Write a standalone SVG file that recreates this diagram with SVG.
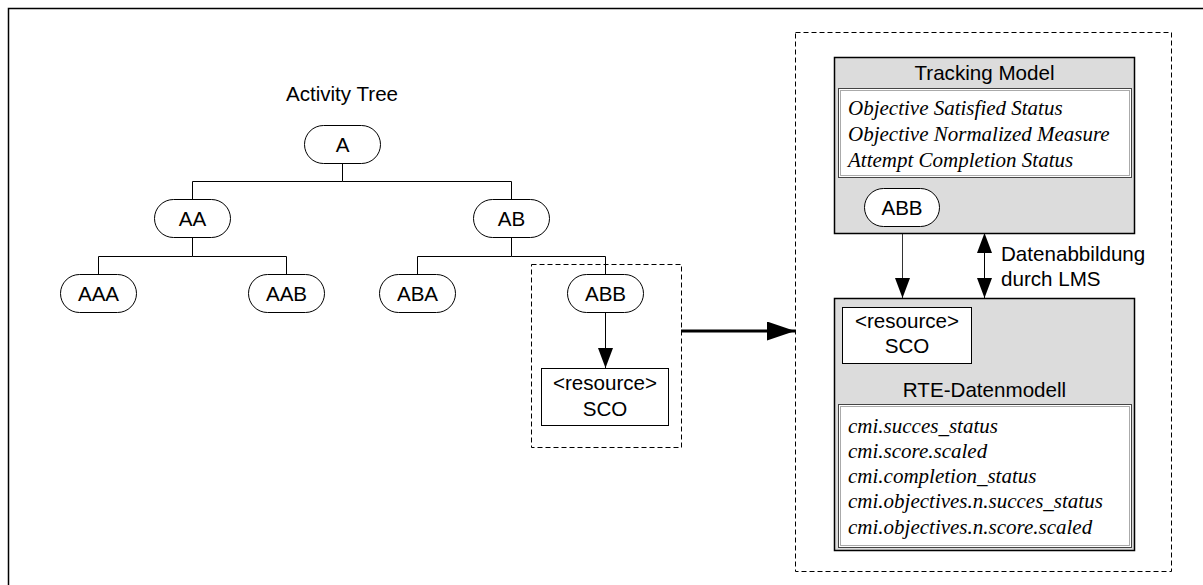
<svg xmlns="http://www.w3.org/2000/svg" width="1203" height="585" viewBox="0 0 1203 585">
  <style>
    .lbl { font-family: "Liberation Sans", Arial, sans-serif; font-size: 20.6px; fill: #000; }
    .mid { text-anchor: middle; }
    .it { font-family: "Liberation Serif", "Times New Roman", serif; font-style: italic; font-size: 21px; fill: #000; }
    .oval { fill: #fff; stroke: #000; stroke-width: 1; }
    .box { fill: #fff; stroke: #000; stroke-width: 1; }
    .panel { fill: #dcdcdc; stroke: #000; stroke-width: 1.5; }
    .inset { fill: #fff; stroke: #444; stroke-width: 1; }
    .inset2 { fill: none; stroke: #aaa; stroke-width: 1; }
    .edge { fill: none; stroke: #000; stroke-width: 1; }
    .dash { fill: none; stroke: #000; stroke-width: 1; stroke-dasharray: 5 3; }
  </style>
  <defs>
    <marker id="triBig" viewBox="0 0 10 10" refX="10" refY="5" markerWidth="28" markerHeight="19" markerUnits="userSpaceOnUse" orient="auto" preserveAspectRatio="none">
      <path d="M0,0 L10,5 L0,10 Z" fill="#000"/>
    </marker>
    <marker id="triMid" viewBox="0 0 10 10" refX="10" refY="5" markerWidth="20" markerHeight="15" markerUnits="userSpaceOnUse" orient="auto" preserveAspectRatio="none">
      <path d="M0,0 L10,5 L0,10 Z" fill="#000"/>
    </marker>
    <marker id="triMidStart" viewBox="0 0 10 10" refX="10" refY="5" markerWidth="20" markerHeight="15" markerUnits="userSpaceOnUse" orient="auto-start-reverse" preserveAspectRatio="none">
      <path d="M0,0 L10,5 L0,10 Z" fill="#000"/>
    </marker>
  </defs>

  <rect width="1203" height="585" fill="#fff"/>
  <!-- page frame -->
  <rect x="8.5" y="8.5" width="1220" height="600" fill="none" stroke="#000" stroke-width="1.5"/>

  <!-- tree title -->
  <text class="lbl mid" x="342" y="101">Activity Tree</text>

  <!-- connectors -->
  <g id="connectors">
    <path class="edge" d="M342.5,163 V181.5 H192.5 V199 M342.5,181.5 H511.5 V199"/>
    <path class="edge" d="M192.5,237 V256.5 H98.5 V274 M192.5,256.5 H286.5 V274"/>
    <path class="edge" d="M511.5,237 V256.5 H417.5 V274 M511.5,256.5 H605.5 V274"/>
    <line class="edge" x1="605.5" y1="312" x2="605.5" y2="368" marker-end="url(#triMid)"/>
    <line x1="681" y1="331" x2="795" y2="331" stroke="#000" stroke-width="3" marker-end="url(#triBig)"/>
    <line x1="902.5" y1="226" x2="902.5" y2="298" stroke="#333" stroke-width="1" marker-end="url(#triMid)"/>
    <line x1="984.5" y1="233" x2="984.5" y2="298" stroke="#000" stroke-width="1" marker-start="url(#triMidStart)" marker-end="url(#triMid)"/>
  </g>

  <!-- tree nodes -->
  <g id="node-A"><rect class="oval" x="304.5" y="125.5" width="76" height="38" rx="19"/><text class="lbl mid" x="342.5" y="152">A</text></g>
  <g id="node-AA"><rect class="oval" x="154.5" y="199.5" width="76" height="38" rx="19"/><text class="lbl mid" x="192.5" y="226">AA</text></g>
  <g id="node-AB"><rect class="oval" x="473.5" y="199.5" width="76" height="38" rx="19"/><text class="lbl mid" x="511.5" y="226">AB</text></g>
  <g id="node-AAA"><rect class="oval" x="60.5" y="274.5" width="76" height="38" rx="19"/><text class="lbl mid" x="98.5" y="301">AAA</text></g>
  <g id="node-AAB"><rect class="oval" x="248.5" y="274.5" width="76" height="38" rx="19"/><text class="lbl mid" x="286.5" y="301">AAB</text></g>
  <g id="node-ABA"><rect class="oval" x="379.5" y="274.5" width="76" height="38" rx="19"/><text class="lbl mid" x="417.5" y="301">ABA</text></g>
  <g id="node-ABB"><rect class="oval" x="567.5" y="274.5" width="76" height="38" rx="19"/><text class="lbl mid" x="605.5" y="301">ABB</text></g>

  <!-- selection around ABB and its resource -->
  <rect id="selection" class="dash" x="531.5" y="264.5" width="150" height="183"/>
  <g id="node-SCO">
    <rect class="box" x="541.5" y="368.5" width="127" height="57"/>
    <text class="lbl mid" x="605" y="390">&lt;resource&gt;</text>
    <text class="lbl mid" x="605" y="416">SCO</text>
  </g>

  <!-- LMS side -->
  <rect id="lms-frame" class="dash" x="795.5" y="32.5" width="376" height="539"/>

  <g id="tracking-model">
    <rect class="panel" x="834.5" y="57.5" width="300" height="176"/>
    <text class="lbl mid" x="984.5" y="80">Tracking Model</text>
    <rect class="inset" x="838.5" y="88.5" width="293" height="89"/>
    <rect class="inset2" x="840.5" y="90.5" width="289" height="85"/>
    <text class="it" x="848" y="115">Objective Satisfied Status</text>
    <text class="it" x="848" y="141">Objective Normalized Measure</text>
    <text class="it" x="848" y="167">Attempt Completion Status</text>
  </g>
  <g id="node-ABB-tracked">
    <rect class="oval" x="864.5" y="188.5" width="75" height="38" rx="19"/>
    <text class="lbl mid" x="902" y="215">ABB</text>
  </g>

  <text class="lbl" x="1001" y="261">Datenabbildung</text>
  <text class="lbl" x="1001" y="286">durch LMS</text>

  <g id="rte-datamodel">
    <rect class="panel" x="834.5" y="298.5" width="300" height="252"/>
    <text class="lbl mid" x="984.5" y="397">RTE-Datenmodell</text>
    <rect class="inset" x="838.5" y="404.5" width="293" height="143"/>
    <rect class="inset2" x="840.5" y="406.5" width="289" height="139"/>
    <text class="it" x="848" y="433">cmi.succes_status</text>
    <text class="it" x="848" y="458">cmi.score.scaled</text>
    <text class="it" x="848" y="483">cmi.completion_status</text>
    <text class="it" x="848" y="508">cmi.objectives.n.succes_status</text>
    <text class="it" x="848" y="534">cmi.objectives.n.score.scaled</text>
  </g>
  <g id="node-SCO-runtime">
    <rect class="box" x="842.5" y="307.5" width="129" height="56"/>
    <text class="lbl mid" x="907" y="328">&lt;resource&gt;</text>
    <text class="lbl mid" x="907" y="353">SCO</text>
  </g>
</svg>
